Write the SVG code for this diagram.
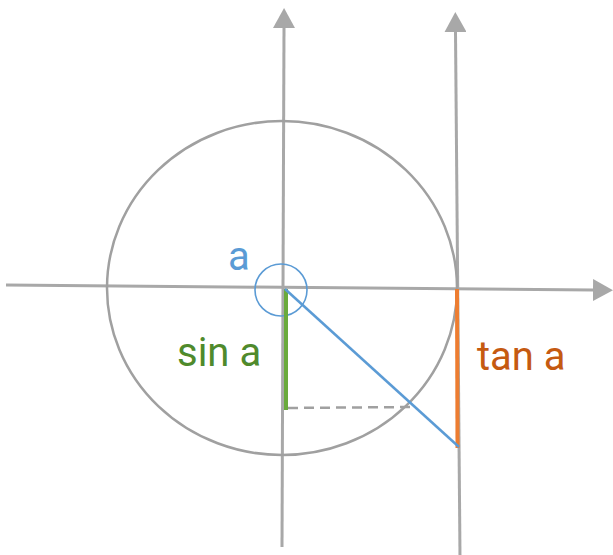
<svg xmlns="http://www.w3.org/2000/svg" width="613" height="555" viewBox="0 0 613 555">
<style>
.axis{stroke:#a8a8a8;stroke-width:3;fill:none}
.lbl{font-family:Roboto,"Liberation Sans",sans-serif;font-size:40px}
</style>
<defs>
<marker id="arr" markerUnits="userSpaceOnUse" viewBox="0 0 20 22" refX="0" refY="11" markerWidth="20" markerHeight="22" orient="auto">
<path d="M0,0 L20,11 L0,22 z" fill="#a8a8a8"/>
</marker>
</defs>
<rect width="613" height="555" fill="#ffffff"/>
<g id="connectors">
<line class="axis" x1="6" y1="285" x2="593" y2="290" marker-end="url(#arr)"/>
<line class="axis" x1="282" y1="547" x2="284" y2="28" marker-end="url(#arr)"/>
<line class="axis" x1="460" y1="556" x2="455.5" y2="32" marker-end="url(#arr)"/>
</g>
<g id="unit-circle">
<ellipse cx="282" cy="288" rx="175" ry="167" fill="none" stroke="#a0a0a0" stroke-width="2.5"/>
</g>
<g id="angle">
<circle cx="281" cy="290" r="26" fill="none" stroke="#5b9bd5" stroke-width="1.6"/>
<text class="lbl" x="228" y="270" fill="#5b9bd5">a</text>
</g>
<g id="cos-dash">
<line x1="288" y1="408" x2="410" y2="407" stroke="#a0a0a0" stroke-width="2.5" stroke-dasharray="10,6"/>
</g>
<g id="sin">
<line x1="286" y1="289" x2="286" y2="410" stroke="#6aaa3c" stroke-width="4"/>
<text class="lbl" x="177" y="366" fill="#4f8a2c">sin a</text>
</g>
<g id="tan">
<line x1="457" y1="289" x2="457.5" y2="448" stroke="#ed7d31" stroke-width="4"/>
<text class="lbl" x="477" y="370" fill="#c55a11">tan a</text>
</g>
<g id="radius">
<line x1="285" y1="289" x2="459" y2="447" stroke="#5b9bd5" stroke-width="2.5"/>
</g>
</svg>
